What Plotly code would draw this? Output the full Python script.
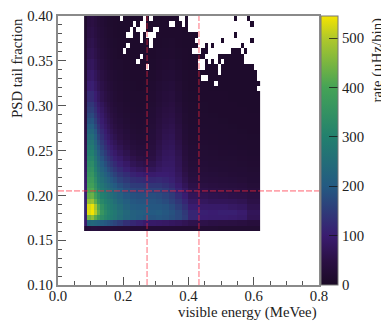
import numpy as np
import plotly.graph_objects as go

# Bin layout of the histogram
X_START, X_BIN = 0.08, 0.01
Y_START, Y_BIN = 0.16, 0.006
X_SPANS = [1]*10 + [2]*11 + [3]*6 + [4]
Y_SPANS = [1]*24 + [2]*8

# Rate (uHz/bin); rows bottom to top, columns left to right
RATE = [
[25,35,38,38,36,35,35,34,33,32,30,30,28,28,26,26,26,26,26,25,25,24,24,24,22,22,22,22],
[95,230,235,225,215,205,195,185,175,165,150,130,118,108,95,90,88,85,80,75,68,58,55,50,48,45,42,36],
[105,445,470,420,370,335,315,300,285,270,250,230,215,205,195,190,195,190,180,170,150,115,100,98,98,95,90,68],
[115,530,545,505,430,360,325,305,290,275,255,235,215,210,205,200,205,195,185,170,145,115,105,100,105,105,95,72],
[115,525,540,490,410,345,315,295,280,265,245,220,205,200,200,195,195,190,175,155,130,100,92,90,90,85,80,62],
[110,470,480,425,360,320,300,285,270,250,230,210,195,190,190,190,185,175,160,140,115,85,78,72,72,70,65,52],
[105,430,435,385,335,300,285,265,250,235,215,195,185,180,180,180,175,165,150,125,100,72,65,60,58,55,52,45],
[100,405,410,360,315,285,265,250,235,220,200,180,170,165,165,160,160,150,135,110,85,62,55,50,48,45,42,36],
[95,385,390,345,300,270,250,235,215,200,180,165,150,148,145,140,140,130,118,95,72,52,45,42,40,38,36,30],
[90,370,375,330,285,255,235,215,195,180,160,145,130,125,120,118,120,115,105,85,62,44,38,36,34,32,30,26],
[85,355,360,315,270,240,215,195,178,160,140,125,110,102,95,95,100,100,95,78,55,38,34,32,30,28,26,24],
[80,340,345,300,255,222,198,175,158,140,122,105,88,78,72,74,85,92,90,72,48,34,30,28,26,25,24,22],
[75,325,330,285,240,205,180,158,140,122,105,88,70,60,55,60,75,85,86,68,44,30,27,25,24,23,22,20],
[70,310,315,270,225,188,162,142,122,105,90,72,58,48,44,50,66,80,82,65,40,28,25,23,22,21,20,18],
[66,295,300,255,210,172,148,126,108,92,76,60,46,38,36,44,60,75,78,60,36,26,23,22,20,19,18,16],
[62,280,285,240,195,158,132,112,95,80,65,50,38,32,32,40,56,70,74,56,34,24,21,20,18,18,16,15],
[58,262,268,225,180,145,120,100,84,70,55,42,32,28,28,36,52,66,70,52,30,22,20,18,17,16,15,14],
[54,245,250,210,165,132,108,90,74,60,48,36,28,24,25,34,48,62,66,48,28,20,18,17,16,15,14,13],
[50,225,230,195,150,120,98,80,65,52,42,32,25,22,23,32,45,58,62,45,26,19,17,16,15,14,13,12],
[46,205,210,175,138,108,88,72,58,46,36,28,22,20,22,30,42,54,58,42,24,18,16,15,14,13,12,12],
[43,185,190,158,124,98,80,64,52,40,32,25,20,19,20,28,40,50,54,38,22,17,15,14,13,12,12,11],
[40,168,172,142,112,90,72,58,46,36,28,22,19,18,19,26,36,46,50,36,21,16,14,13,12,12,11,11],
[37,152,155,130,102,82,65,52,40,32,25,20,17,16,18,24,34,42,46,32,19,15,13,12,12,11,11,10],
[35,140,142,118,92,74,58,46,36,28,23,18,16,15,16,22,30,38,42,30,18,14,13,12,11,11,10,10],
[32,120,122,102,80,62,50,40,32,25,20,16,14,14,15,20,27,34,37,26,16,13,12,11,11,10,10,10],
[28,100,104,86,68,54,42,33,27,22,18,14,13,12,13,18,24,29,32,23,14,12,11,10,10,10,10,10],
[25,86,90,74,58,46,36,28,23,19,16,13,12,11,12,15,20,24,26,19,13,11,10,10,10,10,10,10],
[22,74,78,64,50,40,31,25,20,16,14,12,11,10,11,13,17,20,21,16,12,10,10,10,10,10,10,10],
[20,64,68,56,44,34,27,22,18,14,12,11,10,10,10,12,14,16,17,13,11,10,10,10,10,10,10,10],
[18,56,60,50,38,30,24,19,16,13,11,10,10,10,10,10,12,13,14,12,10,10,10,10,10,10,10,10],
[16,50,54,44,34,27,21,17,14,12,10,10,10,10,10,10,11,12,12,11,10,10,10,10,10,10,10,10],
[15,44,48,40,30,24,19,15,13,11,10,10,10,10,10,10,10,11,11,10,10,10,10,10,10,10,10,10],
]

# Empty bins: rows counted from the top, columns from the left
EMPTY = {
0: [11,18,20,29,30,32,33,34,35,36,37,38,39,40,41,42,43,44,45,47,48,49,51,52,53],
1: [15,17,18,26,27,30,32,33,34,35,36,37,38,39,40,41,42,43,44,45,46,47,48,49,50,52,53],
2: [14,16,17,18,21,22,32,33,34,35,36,37,38,39,40,41,42,43,44,45,46,47,48,49,50,51,52,53],
3: [13,14,17,19,20,21,35,36,37,38,39,40,41,42,43,44,45,47,48,49,50,51,52,53],
4: [17,20,34,35,36,37,38,39,40,41,43,44,45,46,47,48,49,50,52,53],
5: [13,20,35,36,38,40,41,42,43,44,45,46,47,49,50,51,52,53],
6: [12,33,34,35,38,39,40,41,42,43,44,48,50,51,52,53],
7: [17,37,38,39,40,49,50,51,52,53],
8: [16,35,36,38,40,42,49,50,51,52,53],
9: [19,35,36,41,52,53],
10: [41,53],
11: [36,37,53],
12: [40],
13: [53],
}

X_TICKS = [0.0, 0.2, 0.4, 0.6, 0.8]
Y_TICKS = [0.10, 0.15, 0.20, 0.25, 0.30, 0.35, 0.40]
CBAR_TICKS = [0, 100, 200, 300, 400, 500]
ZMAX = 545
CUT_X = [0.273, 0.432]
CUT_Y = [0.205]

z = np.repeat(np.repeat(np.array(RATE, float), Y_SPANS, axis=0), X_SPANS, axis=1)
for r, cols in EMPTY.items():
    z[z.shape[0] - 1 - r, cols] = np.nan
x = X_START + X_BIN * (np.arange(z.shape[1]) + 0.5)
y = Y_START + Y_BIN * (np.arange(z.shape[0]) + 0.5)

SERIF = "Liberation Serif"
INK = "#222222"
FRAME = "#8a8a8a"
fs = 14.8

scale = [[0, "#1b0a26"], [0.09, "#2b1044"], [0.183, "#3a1c70"], [0.367, "#245a82"],
         [0.55, "#22806e"], [0.734, "#45a356"], [0.917, "#b0c82a"], [1, "#f5e400"]]

fig = go.Figure()
fig.add_trace(go.Heatmap(
    x=x, y=y, z=z, zmin=0, zmax=ZMAX, colorscale=scale, hoverinfo="skip",
    colorbar=dict(x=1.0077, xanchor="left", y=0.5, yanchor="middle", len=1, lenmode="fraction",
                  thickness=17, thicknessmode="pixels", xpad=0, ypad=0,
                  outlinecolor="#777777", outlinewidth=1,
                  tickmode="array", tickvals=CBAR_TICKS, ticks="inside", ticklen=9,
                  tickcolor="rgba(20,20,20,0.75)", tickwidth=1,
                  tickfont=dict(family=SERIF, size=fs, color=INK)),
))
line = dict(color="rgba(255,40,60,0.42)", width=1.6, dash="6px,2px")
for cx in CUT_X:
    fig.add_trace(go.Scatter(x=[cx, cx], y=[Y_TICKS[0], Y_TICKS[-1]], mode="lines", line=line,
                             hoverinfo="skip", showlegend=False))
for cy in CUT_Y:
    fig.add_trace(go.Scatter(x=[X_TICKS[0], X_TICKS[-1]], y=[cy, cy], mode="lines", line=line,
                             hoverinfo="skip", showlegend=False))

axis = dict(showgrid=False, zeroline=False, showline=True, linecolor=FRAME, linewidth=2, mirror=True,
            ticks="inside", ticklen=8, tickwidth=1, tickcolor="#555555",
            tickfont=dict(family=SERIF, size=fs, color=INK))
fig.update_layout(
    width=381, height=316, autosize=False, paper_bgcolor="white", plot_bgcolor="white",
    margin=dict(l=50, r=70, t=8, b=39, autoexpand=False), showlegend=False,
    xaxis=dict(axis, range=[X_TICKS[0], X_TICKS[-1]], tickmode="array", tickvals=X_TICKS,
               ticktext=[f"{v:.1f}" for v in X_TICKS], ticklabelstandoff=-4,
               minor=dict(ticks="inside", dtick=0.05, ticklen=4, tickwidth=1, tickcolor="#555555")),
    yaxis=dict(axis, range=[Y_TICKS[0], Y_TICKS[-1]], tickmode="array", tickvals=Y_TICKS,
               ticktext=[f"{v:.2f}" for v in Y_TICKS],
               minor=dict(ticks="inside", dtick=0.01, ticklen=4, tickwidth=1, tickcolor="#555555")),
    annotations=[
        dict(text="visible energy (MeVee)", xref="paper", yref="paper", x=1, y=0, xanchor="right",
             yanchor="top", yshift=-17, showarrow=False, font=dict(family=SERIF, size=fs, color=INK)),
        dict(text="PSD tail fraction", xref="paper", yref="paper", x=0, y=1, xanchor="center",
             yanchor="top", xshift=-41, showarrow=False, textangle=-90,
             font=dict(family=SERIF, size=fs, color=INK)),
        dict(text="rate (µHz/bin)", xref="paper", yref="paper", x=1, y=1, xanchor="center",
             yanchor="top", xshift=58, showarrow=False, textangle=-90,
             font=dict(family=SERIF, size=fs, color=INK)),
    ],
)
fig.write_html("out.html")
